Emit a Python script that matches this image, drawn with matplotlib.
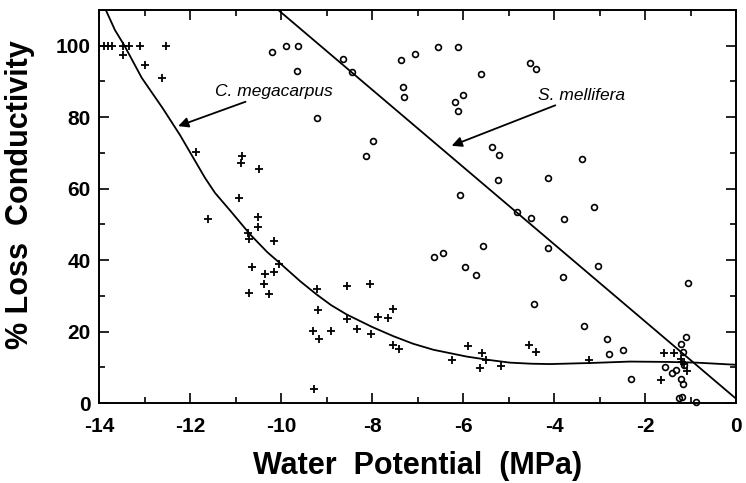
import matplotlib
matplotlib.use("Agg")
import matplotlib.pyplot as plt
from matplotlib.ticker import MultipleLocator

plt.rcParams['font.family'] = ['Liberation Sans', 'DejaVu Sans']
plt.rcParams['axes.unicode_minus'] = False

# C. megacarpus (crosses)
cm_x = [-13.88, -13.8, -13.72, -13.47, -13.33, -13.1, -12.53, -13.47, -12.98, -12.62,
        -11.87, -10.85, -10.89, -10.49, -10.93, -11.61, -10.51, -10.51, -10.72, -10.7,
        -10.16, -10.04, -10.63, -10.35, -10.15, -10.37, -10.71, -10.26,
        -9.2, -9.18, -9.29, -9.16, -8.91, -8.56, -8.56, -8.34, -8.04, -8.03,
        -7.86, -7.64, -7.55, -7.55, -7.41, -9.28, -6.24, -5.9, -5.59, -5.5,
        -5.63, -5.16, -4.56, -4.39, -3.24, -1.58, -1.36, -1.19, -1.22, -1.15,
        -1.07, -1.66]
cm_y = [100, 100, 100, 100, 100, 100, 100, 97.5, 94.6, 91,
        70.3, 69.2, 67.3, 65.4, 57.5, 51.4, 52.1, 49.3, 47.5, 45.8,
        45.4, 38.9, 38.1, 36, 36.8, 33.4, 30.9, 30.5,
        31.9, 26, 20.2, 17.9, 20.2, 32.8, 23.5, 20.6, 33.2, 19.4,
        24.2, 23.9, 26.4, 16.1, 15, 3.8, 12, 15.9, 14, 12,
        9.9, 10.3, 16.1, 14.3, 12, 14, 14, 11.6, 12.3, 11,
        9, 6.4]

# S. mellifera (open circles)
sm_x = [-10.2, -9.9, -9.62, -9.64, -9.2, -8.64, -8.45, -8.13, -7.98, -7.37,
        -7.05, -7.33, -7.29, -6.56, -6.1, -5.6, -6.0, -6.18, -6.11, -4.53,
        -4.4, -5.36, -5.21, -5.23, -4.14, -6.06, -3.39, -4.81, -4.51, -4.13,
        -5.56, -6.64, -6.44, -5.96, -5.72, -4.45, -3.12, -3.79, -3.04, -3.81,
        -1.06, -3.34, -2.83, -2.8, -2.48, -2.31, -1.11, -1.2, -1.16, -1.57,
        -1.4, -1.31, -1.15, -1.2, -1.17, -1.25, -1.18, -0.87]
sm_y = [98.3, 99.8, 99.8, 92.9, 79.7, 96.4, 92.7, 69.1, 73.4, 96,
        97.6, 88.4, 85.7, 99.7, 99.7, 92.1, 86.1, 84.2, 81.8, 95.1,
        93.5, 71.6, 69.4, 62.5, 63, 58.1, 68.4, 53.4, 51.9, 43.5,
        43.9, 40.9, 42, 38, 35.8, 27.8, 54.9, 51.5, 38.4, 35.4,
        33.7, 21.6, 18, 13.6, 14.7, 6.6, 18.5, 16.5, 14.4, 10,
        8.5, 9.2, 10.6, 6.6, 5.3, 1.3, 1.6, 0.4]

# fitted curves
cm_fit_x = [-13.85, -13.65, -13.44, -13.06, -12.6, -12.22, -11.67, -11.45, -11.1,
            -10.68, -10.3, -10.02, -9.58, -9.22, -8.9, -8.56, -8.0, -7.53, -7.1,
            -6.65, -5.92, -5.4, -4.97, -4.5, -4.09, -3.2, -2.33, -1.5, -0.87, 0]
cm_fit_y = [110, 104.4, 100, 91, 82.5, 75, 63, 58.8, 53.6,
            47.2, 42.2, 39.1, 34.1, 30.4, 27.4, 24.8, 21.3, 18.7, 16.6,
            14.9, 13.0, 12.0, 11.3, 11.0, 10.9, 11.2, 11.6, 11.5, 11.3, 10.7]
sm_fit_x = [-10.06, 0]
sm_fit_y = [110, 1.2]

fig = plt.figure(figsize=(7.46, 4.83), dpi=100)
ax = fig.add_axes([0.1327, 0.1656, 0.854, 0.8137])

ax.plot(cm_fit_x, cm_fit_y, color='black', lw=1.3)
ax.plot(sm_fit_x, sm_fit_y, color='black', lw=1.3)
ax.plot(cm_x, cm_y, linestyle='none', marker='+', color='black', ms=5.5, mew=1.3)
ax.plot(sm_x, sm_y, linestyle='none', marker='o', mfc='none', mec='black',
        ms=4.2, mew=1.2, clip_on=False)

ax.annotate('C. megacarpus', xy=(-12.26, 77.5), xytext=(-11.45, 87.2),
            fontsize=12.5, style='italic', va='center', ha='left',
            arrowprops=dict(arrowstyle='-|>', color='black', lw=1.3,
                            mutation_scale=15, shrinkA=0, shrinkB=0))
ax.annotate('S. mellifera', xy=(-6.25, 72), xytext=(-4.35, 86.2),
            fontsize=12.5, style='italic', va='center', ha='left',
            arrowprops=dict(arrowstyle='-|>', color='black', lw=1.3,
                            mutation_scale=15, shrinkA=0, shrinkB=0))

ax.set_xlim(-14, 0)
ax.set_ylim(0, 110)
ax.xaxis.set_major_locator(MultipleLocator(2))
ax.xaxis.set_minor_locator(MultipleLocator(1))
ax.yaxis.set_major_locator(MultipleLocator(20))
ax.yaxis.set_minor_locator(MultipleLocator(10))
ax.tick_params(which='both', direction='in', top=True, right=True, width=1.2)
ax.tick_params(which='major', length=7, labelsize=15)
ax.tick_params(axis='x', which='major', pad=10)
ax.tick_params(axis='y', which='major', pad=6)
ax.tick_params(which='minor', length=4)
for lab in ax.get_xticklabels() + ax.get_yticklabels():
    lab.set_fontweight('bold')
    lab.set_family(['Liberation Sans Narrow', 'Liberation Sans', 'DejaVu Sans'])
for s in ax.spines.values():
    s.set_linewidth(1.4)

ax.set_xlabel('Water  Potential  (MPa)', fontsize=22, fontweight='bold', labelpad=11)
ax.set_ylabel('% Loss  Conductivity', fontsize=22, fontweight='bold', labelpad=10)
ax.yaxis.set_label_coords(-0.1, 0.53)

fig.savefig('out.png', dpi=100)
